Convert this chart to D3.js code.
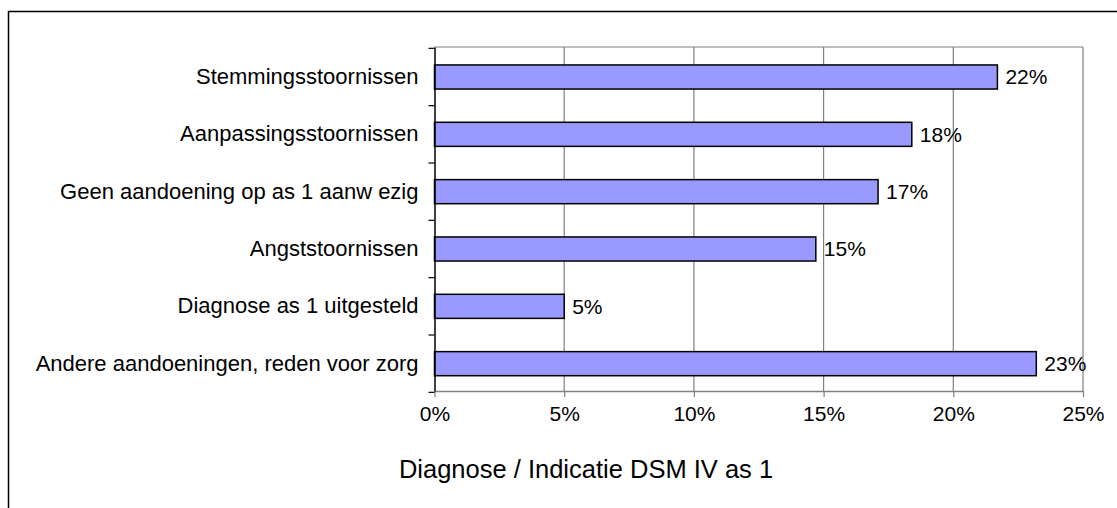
<!DOCTYPE html>
<html>
<head>
<meta charset="utf-8">
<script src="https://cdn.jsdelivr.net/npm/d3@7"></script>
<style>
  body { margin: 0; background: #fff; }
  text { font-family: "Liberation Sans", Arial, sans-serif; fill: #000; }
</style>
</head>
<body>
<svg class="chart"></svg>
<script>
const W = 1117;
const H = 508;

// Data (share of cases, top to bottom)
var categories = [
    "Stemmingsstoornissen",
    "Aanpassingsstoornissen",
    "Geen aandoening op as 1 aanw ezig",
    "Angststoornissen",
    "Diagnose as 1 uitgesteld",
    "Andere aandoeningen, reden voor zorg"
];
var values = [0.217, 0.184, 0.171, 0.147, 0.050, 0.232];
var xTicks = [0, 0.05, 0.10, 0.15, 0.20, 0.25];
var axisTitle = "Diagnose / Indicatie DSM IV as 1";

var plot = {left: 434.5, right: 1083, top: 47, bottom: 391};

var svg = d3.select('.chart')
    .attr("width", W)
    .attr("height", H);

// outer chart border (only top/left visible in the window)
svg.append("rect")
    .attr("x", 8.5).attr("y", 11.5)
    .attr("width", 1160).attr("height", 520)
    .attr("fill", "none")
    .attr("stroke", "#000")
    .attr("stroke-width", 1.5);

var x = d3.scaleLinear()
    .domain([0, 0.25])
    .range([plot.left, plot.right]);

var y = d3.scaleBand()
    .domain(categories)
    .range([plot.top, plot.bottom])
    .paddingInner(0.58)
    .paddingOuter(0.29)
    .align(0.54);

var pct = d3.format(".0%");

// vertical grid lines
svg.append("g")
    .selectAll("line")
    .data(xTicks.slice(1))
    .join("line")
    .attr("x1", d => x(d)).attr("x2", d => x(d))
    .attr("y1", plot.top).attr("y2", plot.bottom)
    .attr("stroke", "#808080")
    .attr("stroke-width", 1.2);

// top border of plot area
svg.append("line")
    .attr("x1", plot.left).attr("x2", plot.right)
    .attr("y1", plot.top).attr("y2", plot.top)
    .attr("stroke", "#808080")
    .attr("stroke-width", 1.2);

// bars
svg.append("g")
    .selectAll("rect")
    .data(values)
    .join("rect")
    .attr("x", x(0))
    .attr("y", (d, i) => y(categories[i]))
    .attr("width", d => x(d) - x(0))
    .attr("height", y.bandwidth())
    .attr("fill", "#9999ff")
    .attr("stroke", "#000")
    .attr("stroke-width", 1.5);

// value labels
svg.append("g")
    .selectAll("text")
    .data(values)
    .join("text")
    .attr("x", d => x(d) + 8)
    .attr("y", (d, i) => y(categories[i]) + y.bandwidth() / 2)
    .attr("dy", "0.35em")
    .style("font-size", "21px")
    .text(d => pct(d));

// X-axis
var xAxis = svg.append("g")
    .attr("transform", "translate(0," + plot.bottom + ")")
    .call(d3.axisBottom(x).tickValues(xTicks).tickFormat(pct).tickSize(6).tickSizeOuter(0).tickPadding(9));
xAxis.select(".domain").attr("stroke", "#808080").attr("stroke-width", 1.5);
xAxis.selectAll(".tick line").attr("stroke", "#808080").attr("stroke-width", 1.2);
xAxis.selectAll("text").style("font-size", "21px").attr("fill", "#000");

// Y-axis (labels at band centres, tick marks on band boundaries)
var yAxis = svg.append("g")
    .attr("transform", "translate(" + plot.left + ",0)")
    .call(d3.axisLeft(y).tickSize(0).tickPadding(16));
yAxis.select(".domain").attr("stroke", "#000").attr("stroke-width", 1.5);
yAxis.selectAll("text").style("font-size", "22px").attr("fill", "#000");

var half = y.step() * y.paddingInner() / 2;
var bounds = categories.map(c => y(c) - half).concat([y(categories[categories.length - 1]) + y.bandwidth() + half]);
svg.append("g")
    .selectAll("line")
    .data(bounds)
    .join("line")
    .attr("x1", plot.left - 6).attr("x2", plot.left)
    .attr("y1", d => d).attr("y2", d => d)
    .attr("stroke", "#000")
    .attr("stroke-width", 1.2);

// axis title
svg.append("text")
    .attr("x", 586)
    .attr("y", 478)
    .attr("text-anchor", "middle")
    .style("font-size", "25.5px")
    .text(axisTitle);
</script>
</body>
</html>
